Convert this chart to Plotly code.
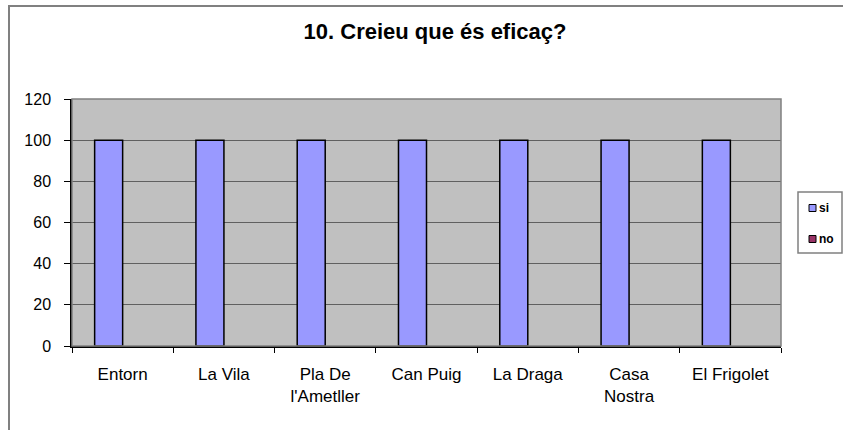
import plotly.graph_objects as go

# Chart data
categories = ["Entorn", "La Vila", "Pla De<br>l'Ametller", "Can Puig", "La Draga", "Casa<br>Nostra", "El Frigolet"]
si_values = [100, 100, 100, 100, 100, 100, 100]
no_values = [0, 0, 0, 0, 0, 0, 0]
series_names = ["si", "no"]
series_colors = ["#9999ff", "#993366"]

W, H = 843, 430
L, R, T, B = 72, 843 - 781, 99, 430 - 346
pw, ph = W - L - R, H - T - B


def px_x(x):
    return (x - L) / pw


def px_y(y):
    return (H - B - y) / ph


fig = go.Figure()
for name, vals, col in zip(series_names, [si_values, no_values], series_colors):
    fig.add_trace(go.Bar(x=categories, y=vals, name=name, marker_color=col,
                         marker_line=dict(color="black", width=1.5 if name == "si" else 0),
                         showlegend=False))

shapes = [
    # outer chart border (top and left edges only, the rest runs off the picture)
    dict(type="line", xref="paper", yref="paper", x0=px_x(9), x1=px_x(900), y0=px_y(6), y1=px_y(6),
         line=dict(color="#808080", width=2)),
    dict(type="line", xref="paper", yref="paper", x0=px_x(9), x1=px_x(9), y0=px_y(5), y1=px_y(500),
         line=dict(color="#808080", width=2)),
    # plot area border (top/right)
    dict(type="rect", xref="paper", yref="paper", x0=0, x1=1, y0=0, y1=1,
         line=dict(color="#808080", width=1.5), fillcolor="rgba(0,0,0,0)"),
    # legend box
    dict(type="rect", xref="paper", yref="paper", x0=px_x(798), x1=px_x(842), y0=px_y(192), y1=px_y(253),
         line=dict(color="#808080", width=1.5), fillcolor="white"),
]
annotations = []
for i, (name, col) in enumerate(zip(series_names, series_colors)):
    cy = 208 + i * 31
    shapes.append(dict(type="rect", xref="paper", yref="paper", x0=px_x(809), x1=px_x(816),
                       y0=px_y(cy - 3.5), y1=px_y(cy + 3.5), line=dict(color="black", width=1), fillcolor=col))
    annotations.append(dict(text="<b>" + name + "</b>", xref="paper", yref="paper", x=px_x(817), y=px_y(cy),
                            xanchor="left", yanchor="middle", showarrow=False,
                            font=dict(size=12, color="black", family="Liberation Sans, Arial")))

fig.update_layout(
    width=W, height=H,
    margin=dict(l=L, r=R, t=T, b=B),
    paper_bgcolor="white", plot_bgcolor="#c0c0c0",
    barmode="group", bargap=0.447, bargroupgap=0,
    title=dict(text="<b>10. Creieu que és eficaç?</b>", x=px_x(435), xanchor="center", xref="paper",
               y=1 - 31 / H, yanchor="middle",
               font=dict(size=22, color="black", family="Liberation Sans, Arial")),
    font=dict(family="Liberation Sans, Arial", size=16, color="black"),
    shapes=shapes, annotations=annotations,
    xaxis=dict(showline=True, linecolor="black", linewidth=1.5, ticks="outside", ticklen=5,
               tickcolor="black", tickson="boundaries", ticklabelstandoff=12, showgrid=False,
               tickfont=dict(size=17)),
    yaxis=dict(range=[0, 120], dtick=20, showline=True, linecolor="black", linewidth=1.5,
               ticks="outside", ticklen=6, tickcolor="black", ticklabelstandoff=10,
               gridcolor="#606060", gridwidth=1, zeroline=False, tickfont=dict(size=16)),
)

# drop the default page margin so the figure sits at the window corner
fig.write_html("out.html", config={"displayModeBar": False},
               post_script="document.body.style.margin='0';")
